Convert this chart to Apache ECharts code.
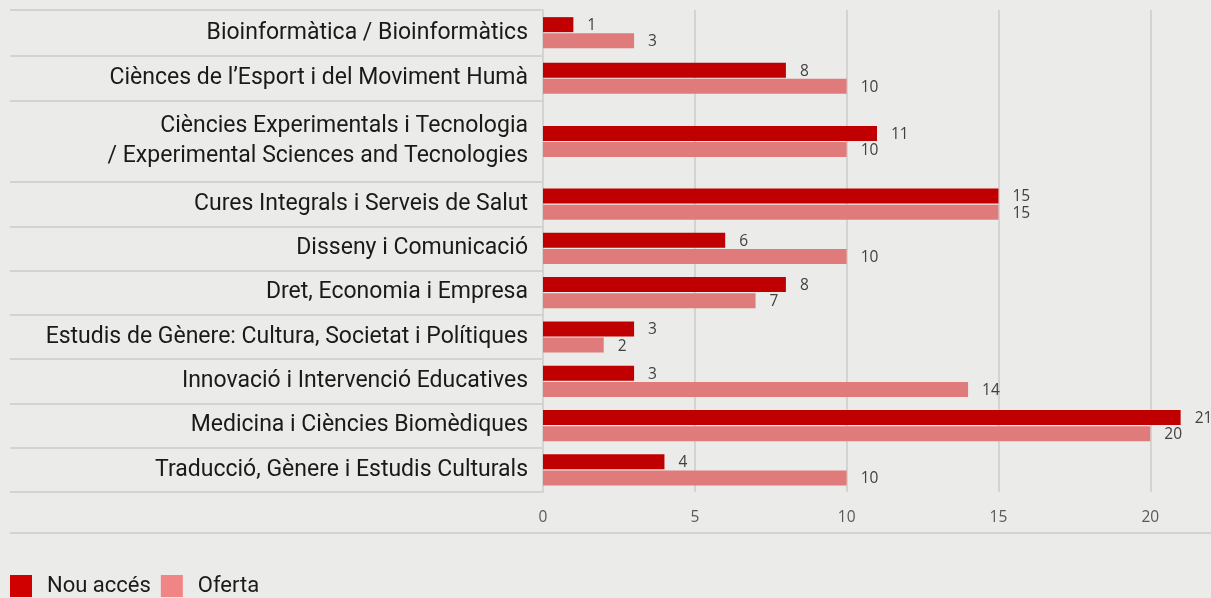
<!DOCTYPE html>
<html>
<head>
<meta charset="utf-8">
<script src="https://cdn.jsdelivr.net/npm/echarts@6/dist/echarts.min.js"></script>
<style>
  html, body { margin: 0; padding: 0; background: #ebebea; }
  #chart { width: 1211px; height: 598px; }
</style>
</head>
<body>
<div id="chart"></div>
<script>
const categories = [
  'Bioinformàtica / Bioinformàtics',
  'Ciènces de l’Esport i del Moviment Humà',
  'Ciències Experimentals i Tecnologia\n/ Experimental Sciences and Tecnologies',
  'Cures Integrals i Serveis de Salut',
  'Disseny i Comunicació',
  'Dret, Economia i Empresa',
  'Estudis de Gènere: Cultura, Societat i Polítiques',
  'Innovació i Intervenció Educatives',
  'Medicina i Ciències Biomèdiques',
  'Traducció, Gènere i Estudis Culturals'
]
const nouAcces = [1, 8, 11, 15, 6, 8, 3, 3, 21, 4]
const oferta = [3, 10, 10, 15, 10, 7, 2, 14, 20, 10]
const xTicks = [0, 5, 10, 15, 20]

// the two-line row is taller, so the rows are split over three grids
const groups = [
  { from: 0, to: 2, top: 10, height: 91 },
  { from: 2, to: 3, top: 101, height: 81 },
  { from: 3, to: 10, top: 182, height: 310 }
]

const DARK = '#c00000'
const LIGHT = '#e07b7b'
const LINE = '#d3d3d2'

const chart = echarts.init(document.getElementById('chart'))

const grid = [], xAxis = [], yAxis = [], series = []
groups.forEach((g, i) => {
  const last = i === groups.length - 1
  grid.push({ left: 543, right: 0, top: g.top, height: g.height })
  xAxis.push({
    type: 'value',
    gridIndex: i,
    min: 0,
    max: 22,
    interval: 5,
    axisLine: { show: false },
    axisTick: { show: false },
    axisLabel: {
      show: last,
      margin: 18,
      showMaxLabel: false,
      color: '#595959',
      fontSize: 15.5,
      fontFamily: 'Open Sans',
      formatter: v => (xTicks.includes(v) ? String(v) : '')
    },
    splitLine: { show: true, showMaxLine: false, lineStyle: { color: LINE, width: 2 } }
  })
  yAxis.push({
    type: 'category',
    gridIndex: i,
    inverse: true,
    data: categories.slice(g.from, g.to),
    axisLine: { show: true, lineStyle: { color: LINE, width: 2 } },
    axisTick: { show: true, length: 533, lineStyle: { color: LINE, width: 2 } },
    axisLabel: {
      margin: 15,
      color: '#1a1a1a',
      fontSize: 23,
      lineHeight: 30,
      fontFamily: 'Roboto'
    }
  })
  const label = {
    show: true,
    position: 'right',
    distance: 14,
    offset: [0, 1],
    color: '#404040',
    fontSize: 15.5,
    fontFamily: 'Open Sans'
  }
  series.push({
    name: 'Nou accés',
    type: 'bar',
    xAxisIndex: i,
    yAxisIndex: i,
    data: nouAcces.slice(g.from, g.to),
    barWidth: 15,
    barGap: '8%',
    itemStyle: { color: DARK },
    label
  })
  series.push({
    name: 'Oferta',
    type: 'bar',
    xAxisIndex: i,
    yAxisIndex: i,
    data: oferta.slice(g.from, g.to),
    barWidth: 15,
    barGap: '8%',
    itemStyle: { color: LIGHT },
    label
  })
})

chart.setOption({
  backgroundColor: '#ebebea',
  animation: false,
  grid,
  xAxis,
  yAxis,
  series,
  legend: {
    left: 10,
    top: 575,
    padding: 0,
    itemWidth: 22,
    itemHeight: 22,
    itemGap: 10,
    icon: 'rect',
    data: [
      { name: 'Nou accés', itemStyle: { color: '#d00000' } },
      { name: 'Oferta', itemStyle: { color: '#f08585' } }
    ],
    textStyle: {
      color: '#1a1a1a',
      fontSize: 22,
      fontFamily: 'Roboto',
      padding: [0, 0, 0, 10]
    }
  },
  graphic: [
    {
      type: 'line',
      shape: { x1: 10, y1: 533, x2: 1211, y2: 533 },
      style: { stroke: LINE, lineWidth: 2 }
    }
  ]
})
</script>
</body>
</html>
